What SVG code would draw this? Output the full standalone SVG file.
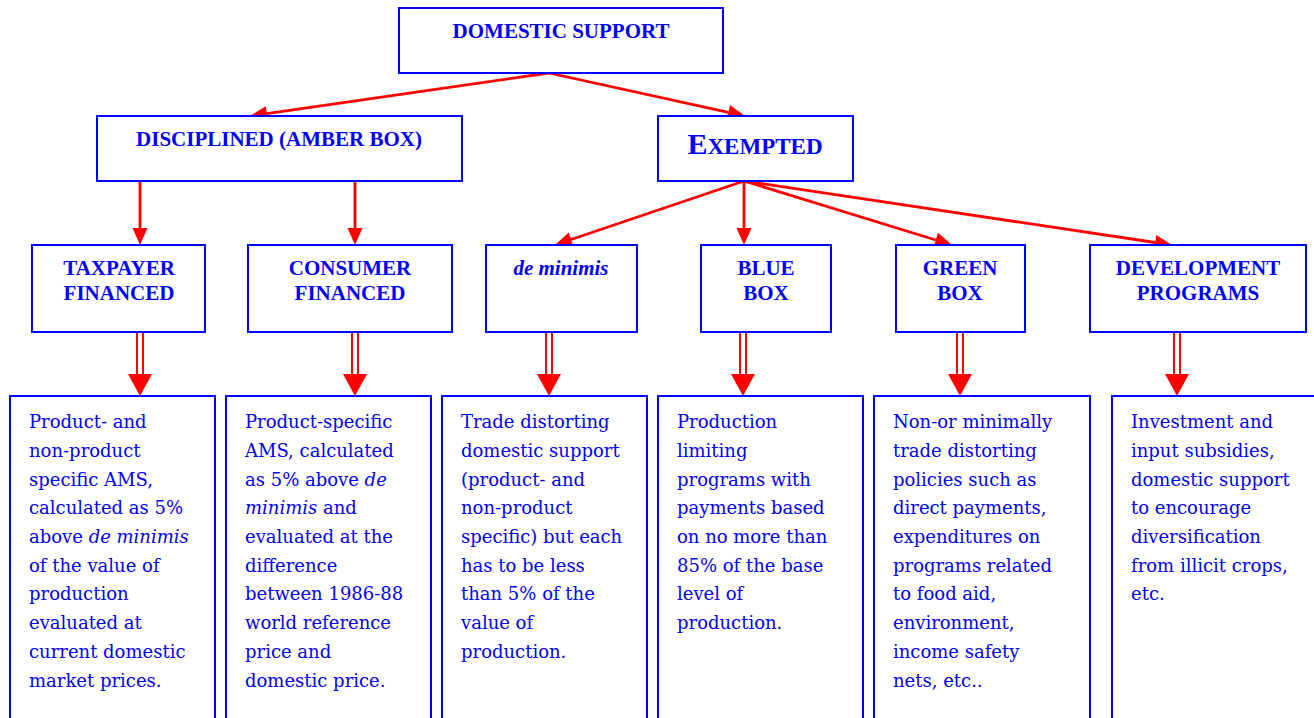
<svg xmlns="http://www.w3.org/2000/svg" width="1314" height="718" viewBox="0 0 1314 718">
<defs>
<style>
.box{fill:#fff;stroke:#0000ff;stroke-width:2}
.hd{font-family:"Liberation Serif","Times New Roman",serif;font-weight:bold;font-size:21px;fill:#0000ff;text-anchor:middle}
.bd{font-family:"DejaVu Serif","Liberation Serif",serif;font-size:18px;fill:#0000ff}
.ln{stroke:#ff0000;stroke-width:2.8;fill:none}
.dl{stroke:#ff0000;stroke-width:2;fill:none}
.tri{fill:#ff0000}
</style>
</defs>
<rect width="1314" height="718" fill="#fff"/>
<g id="connectors">
<line class="ln" x1="549" y1="73" x2="266.8" y2="113.6"/><polygon class="tri" points="250,116 265.8,106.2 267.9,121"/>
<line class="ln" x1="549" y1="73" x2="728.4" y2="112.4"/><polygon class="tri" points="745,116 726.8,119.7 730,105"/>
<line class="ln" x1="140" y1="181" x2="140" y2="228"/><polygon class="tri" points="140,245 132.5,228 147.5,228"/>
<line class="ln" x1="355" y1="181" x2="355" y2="228"/><polygon class="tri" points="355,245 347.5,228 362.5,228"/>
<line class="ln" x1="744" y1="181" x2="571.1" y2="239.5"/><polygon class="tri" points="555,245 568.7,232.4 573.5,246.6"/>
<line class="ln" x1="744" y1="181" x2="744" y2="228"/><polygon class="tri" points="744,245 736.5,228 751.5,228"/>
<line class="ln" x1="744" y1="181" x2="935.8" y2="240"/><polygon class="tri" points="952,245 933.5,247.2 938,232.8"/>
<line class="ln" x1="744" y1="181" x2="1155.2" y2="242.5"/><polygon class="tri" points="1172,245 1154.1,249.9 1156.3,235.1"/>
<g id="dbl1"><path class="dl" d="M137,332V376M143,332V376"/><path class="tri" d="M128,374H152L140,396z"/></g>
<g id="dbl2"><path class="dl" d="M352,332V376M358,332V376"/><path class="tri" d="M343,374H367L355,396z"/></g>
<g id="dbl3"><path class="dl" d="M546,332V376M552,332V376"/><path class="tri" d="M537,374H561L549,396z"/></g>
<g id="dbl4"><path class="dl" d="M740,332V376M746,332V376"/><path class="tri" d="M731,374H755L743,396z"/></g>
<g id="dbl5"><path class="dl" d="M957,332V376M963,332V376"/><path class="tri" d="M948,374H972L960,396z"/></g>
<g id="dbl6"><path class="dl" d="M1174,332V376M1180,332V376"/><path class="tri" d="M1165,374H1189L1177,396z"/></g>
</g>
<g id="domestic"><rect class="box" x="399" y="8" width="324" height="65"/><text class="hd" x="561" y="38">DOMESTIC SUPPORT</text></g>
<g id="disciplined"><rect class="box" x="97" y="116" width="365" height="65"/><text class="hd" x="279" y="146">DISCIPLINED (AMBER BOX)</text></g>
<g id="exempted"><rect class="box" x="658" y="116" width="195" height="65"/><text class="hd" x="755" y="154"><tspan font-size="30">E</tspan><tspan font-size="23">XEMPTED</tspan></text></g>
<g id="taxpayer"><rect class="box" x="32" y="245" width="173" height="87"/><text class="hd" x="119" y="275">TAXPAYER</text><text class="hd" x="119" y="300">FINANCED</text></g>
<g id="consumer"><rect class="box" x="248" y="245" width="204" height="87"/><text class="hd" x="350" y="275">CONSUMER</text><text class="hd" x="350" y="300">FINANCED</text></g>
<g id="deminimis"><rect class="box" x="486" y="245" width="151" height="87"/><text class="hd" x="561" y="275" font-style="italic">de minimis</text></g>
<g id="bluebox"><rect class="box" x="701" y="245" width="130" height="87"/><text class="hd" x="766" y="275">BLUE</text><text class="hd" x="766" y="300">BOX</text></g>
<g id="greenbox"><rect class="box" x="896" y="245" width="129" height="87"/><text class="hd" x="960" y="275">GREEN</text><text class="hd" x="960" y="300">BOX</text></g>
<g id="development"><rect class="box" x="1090" y="245" width="216" height="87"/><text class="hd" x="1198" y="275">DEVELOPMENT</text><text class="hd" x="1198" y="300">PROGRAMS</text></g>
<g id="desc1"><rect class="box" x="10" y="396" width="205" height="340"/>
<text class="bd" x="29" y="428">Product- and</text>
<text class="bd" x="29" y="457">non-product</text>
<text class="bd" x="29" y="486">specific AMS,</text>
<text class="bd" x="29" y="514">calculated as 5%</text>
<text class="bd" x="29" y="543">above <tspan font-style="italic">de minimis</tspan></text>
<text class="bd" x="29" y="572">of the value of</text>
<text class="bd" x="29" y="600">production</text>
<text class="bd" x="29" y="629">evaluated at</text>
<text class="bd" x="29" y="658">current domestic</text>
<text class="bd" x="29" y="687">market prices.</text>
</g>
<g id="desc2"><rect class="box" x="226" y="396" width="205" height="340"/>
<text class="bd" x="245" y="428">Product-specific</text>
<text class="bd" x="245" y="457">AMS, calculated</text>
<text class="bd" x="245" y="486">as 5% above <tspan font-style="italic">de</tspan></text>
<text class="bd" x="245" y="514"><tspan font-style="italic">minimis</tspan> and</text>
<text class="bd" x="245" y="543">evaluated at the</text>
<text class="bd" x="245" y="572">difference</text>
<text class="bd" x="245" y="600">between 1986-88</text>
<text class="bd" x="245" y="629">world reference</text>
<text class="bd" x="245" y="658">price and</text>
<text class="bd" x="245" y="687">domestic price.</text>
</g>
<g id="desc3"><rect class="box" x="442" y="396" width="205" height="340"/>
<text class="bd" x="461" y="428">Trade distorting</text>
<text class="bd" x="461" y="457">domestic support</text>
<text class="bd" x="461" y="486">(product- and</text>
<text class="bd" x="461" y="514">non-product</text>
<text class="bd" x="461" y="543">specific) but each</text>
<text class="bd" x="461" y="572">has to be less</text>
<text class="bd" x="461" y="600">than 5% of the</text>
<text class="bd" x="461" y="629">value of</text>
<text class="bd" x="461" y="658">production.</text>
</g>
<g id="desc4"><rect class="box" x="658" y="396" width="205" height="340"/>
<text class="bd" x="677" y="428">Production</text>
<text class="bd" x="677" y="457">limiting</text>
<text class="bd" x="677" y="486">programs with</text>
<text class="bd" x="677" y="514">payments based</text>
<text class="bd" x="677" y="543">on no more than</text>
<text class="bd" x="677" y="572">85% of the base</text>
<text class="bd" x="677" y="600">level of</text>
<text class="bd" x="677" y="629">production.</text>
</g>
<g id="desc5"><rect class="box" x="874" y="396" width="216" height="340"/>
<text class="bd" x="893" y="428">Non-or minimally</text>
<text class="bd" x="893" y="457">trade distorting</text>
<text class="bd" x="893" y="486">policies such as</text>
<text class="bd" x="893" y="514">direct payments,</text>
<text class="bd" x="893" y="543">expenditures on</text>
<text class="bd" x="893" y="572">programs related</text>
<text class="bd" x="893" y="600">to food aid,</text>
<text class="bd" x="893" y="629">environment,</text>
<text class="bd" x="893" y="658">income safety</text>
<text class="bd" x="893" y="687">nets, etc..</text>
</g>
<g id="desc6"><rect class="box" x="1112" y="396" width="220" height="340"/>
<text class="bd" x="1131" y="428">Investment and</text>
<text class="bd" x="1131" y="457">input subsidies,</text>
<text class="bd" x="1131" y="486">domestic support</text>
<text class="bd" x="1131" y="514">to encourage</text>
<text class="bd" x="1131" y="543">diversification</text>
<text class="bd" x="1131" y="572">from illicit crops,</text>
<text class="bd" x="1131" y="600">etc.</text>
</g>
</svg>
